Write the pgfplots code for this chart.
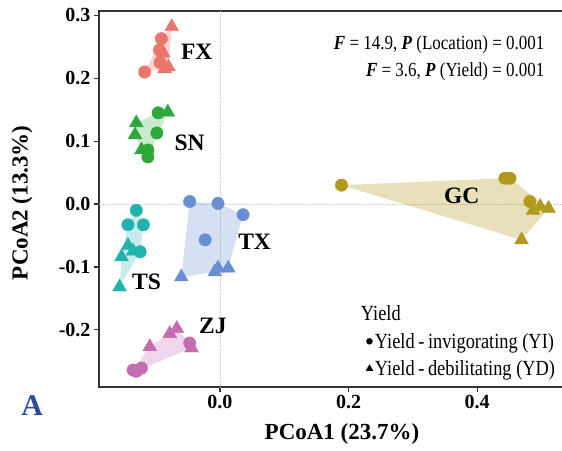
\documentclass[border=0pt]{standalone}
\usepackage{fontspec}
\setmainfont{Liberation Serif}
\newfontfamily\narrowfont[FakeStretch=0.85]{Liberation Serif}
\usepackage{pgfplots}
\pgfplotsset{compat=1.18}
\definecolor{cFX}{HTML}{E9756B}
\definecolor{cSN}{HTML}{2EA83A}
\definecolor{cTS}{HTML}{22B3AE}
\definecolor{cTX}{HTML}{6A8ED4}
\definecolor{cZJ}{HTML}{C46CB2}
\definecolor{cGC}{HTML}{B29A1E}
\definecolor{cA}{HTML}{2B4C9B}
\begin{document}
\begin{tikzpicture}
\begin{axis}[
  scale only axis, width=486pt, height=376pt,
  xmin=-0.188, xmax=0.5677, ymin=-0.291, ymax=0.307,
  axis line style={line width=1.2pt, black!80},
  tick align=outside, tick pos=left, major tick length=5pt,
  tick style={line width=1.2pt, black!80},
  xtick={0,0.2,0.4}, ytick={-0.2,-0.1,0,0.1,0.2,0.3},
  ticklabel style={font=\fontsize{20}{22}\selectfont\bfseries},
  /pgf/number format/fixed, /pgf/number format/fixed zerofill,
  /pgf/number format/precision=1, /pgf/number format/assume math mode=true,
  extra x ticks={0}, extra y ticks={0},
  extra x tick labels={}, extra y tick labels={},
  extra tick style={grid=major, major grid style={densely dotted, gray!35, line width=0.7pt}, major tick length=0pt},
  xlabel={PCoA1 (23.7\%)}, ylabel={PCoA2 (13.3\%)},
  label style={font=\fontsize{23}{26}\selectfont\bfseries},
  xlabel style={at={(axis description cs:0.5,-0.125)}, anchor=center},
  ylabel style={at={(axis description cs:-0.158,0.49)}, anchor=center},
  clip=false,
  legend style={draw=none, fill=none, at={(axis cs:0.219,-0.158)}, anchor=north west,
    font=\narrowfont\fontsize{21.6}{25}\selectfont, row sep=7pt, inner sep=0pt},
  legend cell align=left,
]
% hulls
\addplot[forget plot, draw=none, fill=cFX, fill opacity=0.3] coordinates {(-0.117,0.210) (-0.086,0.215) (-0.080,0.218) (-0.075,0.282) (-0.091,0.263)} -- cycle;
\addplot[forget plot, draw=none, fill=cSN, fill opacity=0.25] coordinates {(-0.132,0.110) (-0.122,0.086) (-0.112,0.075) (-0.081,0.146) (-0.096,0.145) (-0.130,0.129)} -- cycle;
\addplot[forget plot, draw=none, fill=cTS, fill opacity=0.25] coordinates {(-0.130,-0.010) (-0.119,-0.033) (-0.124,-0.076) (-0.156,-0.132) (-0.153,-0.084) (-0.143,-0.033)} -- cycle;
\addplot[forget plot, draw=none, fill=cTX, fill opacity=0.28] coordinates {(-0.047,0.004) (-0.003,0.001) (0.036,-0.017) (0.013,-0.102) (-0.008,-0.108) (-0.060,-0.116)} -- cycle;
\addplot[forget plot, draw=none, fill=cZJ, fill opacity=0.28] coordinates {(-0.135,-0.264) (-0.130,-0.266) (-0.044,-0.229) (-0.047,-0.221) (-0.067,-0.198) (-0.109,-0.227)} -- cycle;
\addplot[forget plot, draw=none, fill=cGC, fill opacity=0.3] coordinates {(0.189,0.030) (0.443,0.041) (0.451,0.041) (0.511,-0.007) (0.469,-0.057)} -- cycle;
% YI circles
\addplot[forget plot, only marks, mark=*, mark size=6.2pt, cFX] coordinates {(-0.117,0.210) (-0.091,0.263) (-0.094,0.245) (-0.093,0.225)};
\addplot[forget plot, only marks, mark=*, mark size=6.2pt, cSN] coordinates {(-0.096,0.145) (-0.098,0.113) (-0.112,0.086) (-0.112,0.075)};
\addplot[forget plot, only marks, mark=*, mark size=6.2pt, cTS] coordinates {(-0.130,-0.010) (-0.143,-0.033) (-0.119,-0.033) (-0.124,-0.076)};
\addplot[forget plot, only marks, mark=*, mark size=6.2pt, cTX] coordinates {(-0.047,0.004) (-0.003,0.001) (0.036,-0.017) (-0.023,-0.057)};
\addplot[forget plot, only marks, mark=*, mark size=6.2pt, cZJ] coordinates {(-0.047,-0.221) (-0.135,-0.264) (-0.122,-0.261) (-0.130,-0.266)};
\addplot[forget plot, only marks, mark=*, mark size=6.2pt, cGC] coordinates {(0.189,0.030) (0.443,0.041) (0.451,0.041) (0.482,0.004)};
% YD triangles
\addplot[forget plot, only marks, mark=triangle*, mark size=8pt, cFX] coordinates {(-0.075,0.282) (-0.088,0.240) (-0.086,0.215) (-0.080,0.218)};
\addplot[forget plot, only marks, mark=triangle*, mark size=8pt, cSN] coordinates {(-0.130,0.129) (-0.132,0.110) (-0.081,0.146) (-0.122,0.086)};
\addplot[forget plot, only marks, mark=triangle*, mark size=8pt, cTS] coordinates {(-0.143,-0.066) (-0.153,-0.084) (-0.135,-0.075) (-0.156,-0.132)};
\addplot[forget plot, only marks, mark=triangle*, mark size=8pt, cTX] coordinates {(-0.060,-0.116) (-0.003,-0.102) (0.013,-0.102) (-0.008,-0.108)};
\addplot[forget plot, only marks, mark=triangle*, mark size=8pt, cZJ] coordinates {(-0.067,-0.198) (-0.078,-0.206) (-0.109,-0.227) (-0.044,-0.229)};
\addplot[forget plot, only marks, mark=triangle*, mark size=8pt, cGC] coordinates {(0.498,-0.004) (0.511,-0.007) (0.487,-0.010) (0.469,-0.057)};
% legend
\addlegendimage{empty legend}\addlegendentry{\hspace*{-14pt}Yield}
\addlegendimage{only marks, mark=*, mark size=3pt, black}\addlegendentry{Yield\,-\,invigorating (YI)}
\addlegendimage{only marks, mark=triangle*, mark size=4pt, black}\addlegendentry{Yield\,-\,debilitating (YD)}
% group labels
\begin{scope}[every node/.style={font=\fontsize{23.5}{26}\selectfont\bfseries, inner sep=0pt}]
\node at (axis cs:-0.036,0.242) {FX};
\node at (axis cs:-0.047,0.097) {SN};
\node at (axis cs:0.054,-0.060) {TX};
\node at (axis cs:-0.114,-0.124) {TS};
\node at (axis cs:-0.011,-0.194) {ZJ};
\node at (axis cs:0.376,0.013) {GC};
\end{scope}
\node[anchor=east, inner sep=0pt, font=\narrowfont\fontsize{20}{24}\selectfont] at (axis cs:0.505,0.254) {\textbf{\textit{F}} = 14.9, \textbf{\textit{P}} (Location) = 0.001};
\node[anchor=east, inner sep=0pt, font=\narrowfont\fontsize{20}{24}\selectfont] at (axis cs:0.505,0.210) {\textbf{\textit{F}} = 3.6, \textbf{\textit{P}} (Yield) = 0.001};
\node[inner sep=0pt, text=cA, font=\fontsize{30}{32}\selectfont\bfseries] at (axis cs:-0.292,-0.320) {A};
\end{axis}
\pgfresetboundingbox
\path[use as bounding box] (-99pt,-63pt) rectangle (463pt,387pt);
\end{tikzpicture}
\end{document}
